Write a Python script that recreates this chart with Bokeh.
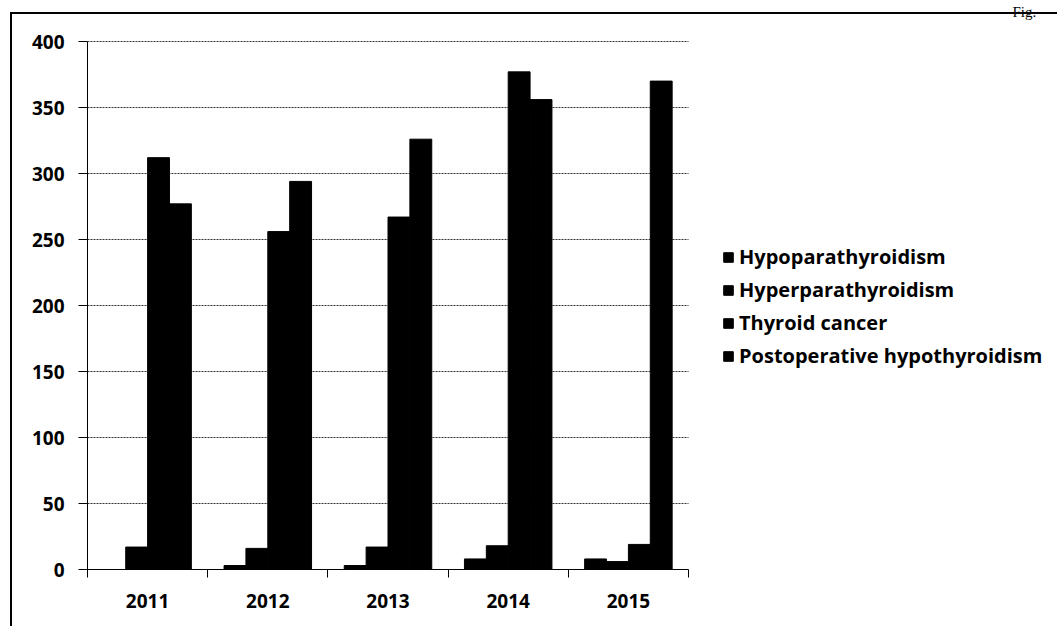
import numpy as np
from bokeh.plotting import figure
from bokeh.models import FixedTicker, Legend, LegendItem, Range1d, Label
from bokeh.embed import file_html
from bokeh.resources import INLINE

years = ["2011", "2012", "2013", "2014", "2015"]
series_names = ["Hypoparathyroidism", "Hyperparathyroidism", "Thyroid cancer",
                "Postoperative hypothyroidism"]
hypoparathyroidism = [0, 3, 3, 8, 8]
hyperparathyroidism = [17, 16, 17, 18, 6]
thyroid_cancer = [312, 256, 267, 377, 19]
postoperative_hypothyroidism = [277, 294, 326, 356, 370]
y_ticks = [0, 50, 100, 150, 200, 250, 300, 350, 400]

series_values = [hypoparathyroidism, hyperparathyroidism, thyroid_cancer,
                 postoperative_hypothyroidism]

FONT = "Open Sans"
W, H = 1057, 626
n = len(years)
# plot area: categories occupy 0..n; the rest of the frame holds the legend
X_END = n * 970 / 601.0
Y_MAX = 400
Y_END = Y_MAX * 569 / 528.0

p = figure(width=W, height=H, output_backend="svg", toolbar_location=None,
           x_range=Range1d(0, X_END), y_range=Range1d(0, Y_END),
           min_border_left=87, min_border_top=0, min_border_bottom=57,
           min_border_right=0)
p.outline_line_color = None
p.background_fill_color = None
p.border_fill_color = None
p.styles = {
    "background-color": "white",
    "background-image": "linear-gradient(black, black), linear-gradient(black, black)",
    "background-size": "2px 100%, 100% 2px",
    "background-position": "10px 12px, 10px 12px",
    "background-repeat": "no-repeat",
}
p.xgrid.visible = False
p.ygrid.grid_line_color = "#333333"
p.ygrid.grid_line_dash = "2 1"
p.ygrid.grid_line_width = 1
p.ygrid.cross_bounds = (0, n)
p.ygrid.bounds = (0, Y_MAX)

centers = np.arange(n) + 0.5
offsets = [-0.273, -0.091, 0.091, 0.273]
bar_w = 0.182

renderers = []
for vals, off in zip(series_values, offsets):
    r = p.vbar(x=centers + off, top=vals, width=bar_w, fill_color="black",
               line_color="black")
    renderers.append(r)

# x axis: labels at centers, tick marks at category boundaries
p.xaxis.bounds = (0, n)
p.xaxis.ticker = FixedTicker(ticks=list(centers), minor_ticks=list(range(n + 1)))
p.xaxis.major_label_overrides = {float(c): y for c, y in zip(centers, years)}
p.xaxis.major_tick_out = 0
p.xaxis.major_tick_in = 0
p.xaxis.minor_tick_out = 8
p.xaxis.minor_tick_in = 0
p.xaxis.minor_tick_line_color = "black"
p.xaxis.axis_line_color = "black"
p.xaxis.axis_line_width = 1
p.xaxis.major_label_standoff = 16
p.xaxis.major_label_text_font = FONT
p.xaxis.major_label_text_font_style = "bold"
p.xaxis.major_label_text_font_size = "19px"
p.xaxis.major_label_text_color = "black"

p.yaxis.bounds = (0, Y_MAX)
p.yaxis.ticker = FixedTicker(ticks=y_ticks)
p.yaxis.major_tick_out = 9
p.yaxis.major_tick_in = 0
p.yaxis.minor_tick_out = 0
p.yaxis.minor_tick_in = 0
p.yaxis.major_tick_line_color = "black"
p.yaxis.axis_line_color = "black"
p.yaxis.major_label_standoff = 14
p.yaxis.major_label_text_font = FONT
p.yaxis.major_label_text_font_style = "bold"
p.yaxis.major_label_text_font_size = "19px"
p.yaxis.major_label_text_color = "black"

legend = Legend(items=[LegendItem(label=s, renderers=[r]) for s, r in zip(series_names, renderers)],
                location=(635, 200), orientation="vertical")
legend.label_text_font = FONT
legend.label_text_font_style = "bold"
legend.label_text_font_size = "20px"
legend.label_text_color = "black"
legend.glyph_width = 12
legend.glyph_height = 12
legend.label_height = 23
legend.spacing = 6
legend.label_standoff = 5
legend.padding = 0
legend.margin = 0
legend.border_line_color = None
legend.background_fill_alpha = 0
p.add_layout(legend, "center")

fig_label = Label(x=925, y=558, x_units="screen", y_units="screen", text="Fig.",
                  text_font="Liberation Serif", text_font_size="15px",
                  text_baseline="alphabetic", text_color="black")
p.add_layout(fig_label)

open("out.html", "w").write(file_html(p, INLINE))
